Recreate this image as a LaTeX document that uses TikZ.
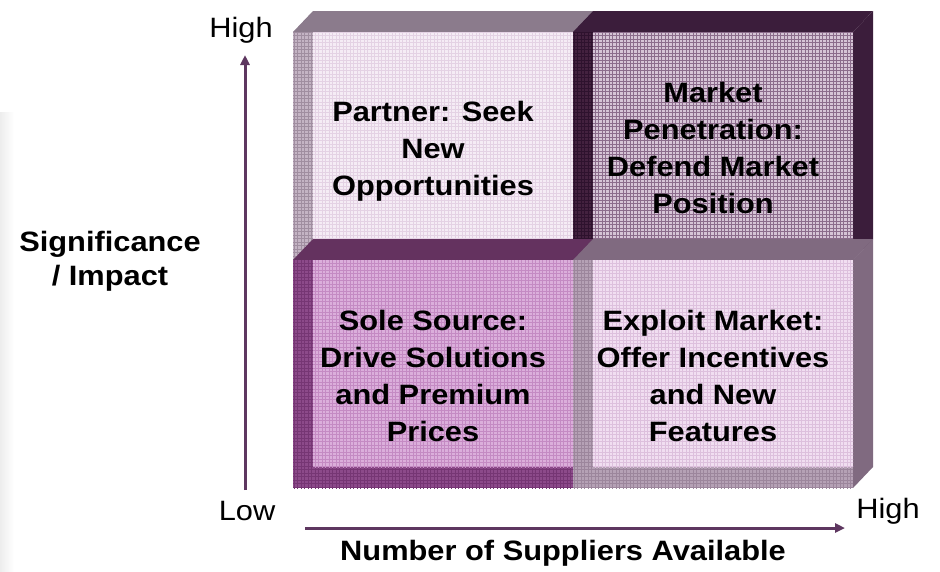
\documentclass[tikz,border=0pt]{standalone}
\usepackage{fontspec}
\setmainfont{Liberation Sans}
\usepackage{graphicx}
\usetikzlibrary{arrows.meta,patterns}
\pgfdeclarepatternformonly{qgrid}{\pgfqpoint{-0.5pt}{-0.5pt}}{\pgfqpoint{4pt}{4pt}}{\pgfqpoint{3.5pt}{3.5pt}}{%
  \pgfsetlinewidth{0.7pt}%
  \pgfpathmoveto{\pgfqpoint{0pt}{-0.1pt}}\pgfpathlineto{\pgfqpoint{0pt}{3.6pt}}%
  \pgfpathmoveto{\pgfqpoint{-0.1pt}{0pt}}\pgfpathlineto{\pgfqpoint{3.6pt}{0pt}}%
  \pgfusepath{stroke}}
\definecolor{arrowc}{HTML}{5E3760}
\definecolor{pTop}{HTML}{8B7B8C}\definecolor{pBand}{HTML}{C4B4C4}\definecolor{pBandG}{HTML}{A08EA0}
\definecolor{pIn}{HTML}{F5ECF5}\definecolor{pInG}{HTML}{E4D2E4}
\definecolor{mTop}{HTML}{3B1D3B}\definecolor{mBand}{HTML}{43213F}\definecolor{mBandG}{HTML}{2E122E}
\definecolor{mIn}{HTML}{D6C4D6}\definecolor{mInG}{HTML}{8C6C8C}
\definecolor{sTop}{HTML}{64325F}\definecolor{sBand}{HTML}{8C4A8A}\definecolor{sBandG}{HTML}{763674}
\definecolor{sIn}{HTML}{DBAEDB}\definecolor{sInG}{HTML}{C48AC3}
\definecolor{eTop}{HTML}{806A80}\definecolor{eBand}{HTML}{B5A1B5}\definecolor{eBandG}{HTML}{9C869C}
\definecolor{eIn}{HTML}{F1DEF1}\definecolor{eInG}{HTML}{DDC0DD}
\newcommand\hstretch[1]{\scalebox{1.1}[1]{#1}}
\newcommand\qcube[8]{%
  \fill[#3] (#1,#2) -- ++(20,-21) -- ++(280,0) -- ++(-20,21) -- cycle;
  \fill[#4] ({#1+280},#2) -- ++(20,-21) -- ++(0,228) -- ++(-20,21) -- cycle;
  \fill[#5] (#1,#2) rectangle ++(280,228);
  \fill[pattern=qgrid, pattern color=#6] (#1,#2) rectangle ++(280,228);
  \fill[#7] ({#1+20},#2) rectangle ++(260,207);
  \fill[pattern=qgrid, pattern color=#8] ({#1+20},#2) rectangle ++(260,207);
}
\begin{document}
\begin{tikzpicture}[x=1pt,y=-1pt,
  boxtext/.style={inner sep=0pt, font=\bfseries\fontsize{28}{37}\selectfont},
  axistext/.style={inner sep=0pt, font=\fontsize{28}{30}\selectfont},
  axistitle/.style={inner sep=0pt, font=\bfseries\fontsize{28}{34}\selectfont},
  axisarrow/.style={draw=arrowc, line width=3pt, -{Triangle[length=10pt,width=9pt]}}]
\useasboundingbox (0,0) rectangle (940,571);
\shade[left color=black!7, right color=white] (0,112) rectangle (14,571);
% cubes
\qcube{293}{32}{pTop}{pTop}{pBand}{pBandG}{pIn}{pInG}
\qcube{573}{32}{mTop}{mTop}{mBand}{mBandG}{mIn}{mInG}
\qcube{293}{260}{sTop}{sTop}{sBand}{sBandG}{sIn}{sInG}
\qcube{573}{260}{eTop}{eTop}{eBand}{eBandG}{eIn}{eInG}
% box texts
\node[boxtext] (partner) at (433,151) {\hstretch{\begin{tabular}{@{}c@{}}Partner: Seek\\New\\Opportunities\end{tabular}}};
\node[boxtext] (market) at (713,151) {\hstretch{\begin{tabular}{@{}c@{}}Market\\Penetration:\\Defend Market\\Position\end{tabular}}};
\node[boxtext] (sole) at (433,379) {\hstretch{\begin{tabular}{@{}c@{}}Sole Source:\\Drive Solutions\\and Premium\\Prices\end{tabular}}};
\node[boxtext] (exploit) at (713,379) {\hstretch{\begin{tabular}{@{}c@{}}Exploit Market:\\Offer Incentives\\and New\\Features\end{tabular}}};
% axes
\node[axistext] (yhigh) at (241,30) {\hstretch{High}};
\node[axistext] (ylow) at (247,511) {\hstretch{Low}};
\node[axistext] (xhigh) at (888,511) {\hstretch{High}};
\node[axistitle] (ytitle) at (110,262) {\hstretch{\begin{tabular}{@{}c@{}}Significance\\/ Impact\end{tabular}}};
\node[axistitle] (xtitle) at (563,553) {\hstretch{Number of Suppliers Available}};
\coordinate (ystart) at (245,490);
\coordinate (yend) at (245,55);
\coordinate (xstart) at (305,528);
\coordinate (xend) at (845,528);
\draw[axisarrow] (ystart) -- (yend);
\draw[axisarrow] (xstart) -- (xend);
\end{tikzpicture}
\end{document}
